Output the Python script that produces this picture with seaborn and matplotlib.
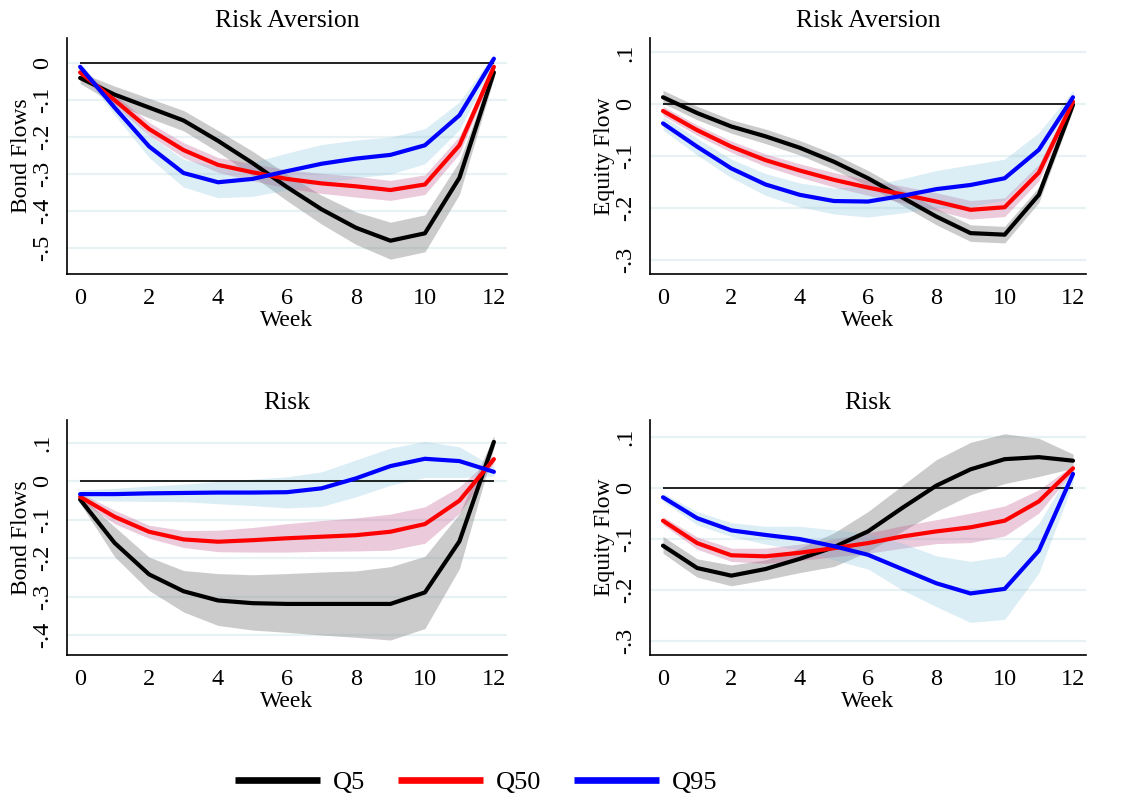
import numpy as np
import pandas as pd
import matplotlib
matplotlib.use("Agg")
import matplotlib.pyplot as plt
import seaborn as sns
from matplotlib.lines import Line2D

weeks = list(range(13))
quantiles = ["Q5", "Q50", "Q95"]

# Panel 1: Risk Aversion -> Bond Flows
ra_bond_q5 = [-0.040, -0.085, -0.120, -0.155, -0.210, -0.270, -0.335, -0.395, -0.445, -0.480, -0.460, -0.310, -0.025]
ra_bond_q5_lo = [-0.055, -0.110, -0.148, -0.183, -0.240, -0.305, -0.372, -0.435, -0.490, -0.530, -0.510, -0.355, -0.040]
ra_bond_q5_hi = [-0.025, -0.062, -0.095, -0.128, -0.182, -0.238, -0.300, -0.357, -0.402, -0.430, -0.410, -0.265, -0.010]
ra_bond_q50 = [-0.025, -0.100, -0.178, -0.235, -0.275, -0.295, -0.313, -0.325, -0.333, -0.343, -0.328, -0.222, -0.010]
ra_bond_q50_lo = [-0.035, -0.115, -0.195, -0.255, -0.295, -0.318, -0.338, -0.352, -0.362, -0.371, -0.355, -0.245, -0.020]
ra_bond_q50_hi = [-0.015, -0.085, -0.160, -0.215, -0.255, -0.272, -0.288, -0.298, -0.306, -0.317, -0.302, -0.198, 0.000]
ra_bond_q95 = [-0.010, -0.120, -0.225, -0.297, -0.322, -0.313, -0.292, -0.272, -0.258, -0.248, -0.222, -0.141, 0.012]
ra_bond_q95_lo = [-0.020, -0.140, -0.255, -0.335, -0.364, -0.360, -0.343, -0.325, -0.310, -0.300, -0.272, -0.180, 0.000]
ra_bond_q95_hi = [0.000, -0.100, -0.195, -0.260, -0.280, -0.268, -0.243, -0.220, -0.208, -0.200, -0.177, -0.105, 0.025]

# Panel 2: Risk Aversion -> Equity Flow
ra_eq_q5 = [0.0135, -0.017, -0.043, -0.062, -0.084, -0.111, -0.143, -0.180, -0.217, -0.249, -0.252, -0.175, -0.001]
ra_eq_q5_lo = [0.002, -0.030, -0.056, -0.076, -0.098, -0.126, -0.158, -0.195, -0.233, -0.265, -0.268, -0.190, -0.010]
ra_eq_q5_hi = [0.027, -0.004, -0.030, -0.048, -0.070, -0.096, -0.128, -0.165, -0.201, -0.233, -0.236, -0.160, 0.008]
ra_eq_q50 = [-0.013, -0.050, -0.082, -0.108, -0.128, -0.146, -0.161, -0.174, -0.188, -0.204, -0.199, -0.132, 0.005]
ra_eq_q50_lo = [-0.022, -0.060, -0.093, -0.120, -0.141, -0.160, -0.176, -0.190, -0.205, -0.222, -0.217, -0.148, -0.003]
ra_eq_q50_hi = [-0.004, -0.040, -0.071, -0.096, -0.115, -0.132, -0.146, -0.158, -0.171, -0.186, -0.181, -0.116, 0.013]
ra_eq_q95 = [-0.037, -0.082, -0.124, -0.155, -0.175, -0.187, -0.188, -0.177, -0.164, -0.156, -0.143, -0.088, 0.0135]
ra_eq_q95_lo = [-0.050, -0.098, -0.142, -0.176, -0.198, -0.212, -0.218, -0.210, -0.200, -0.198, -0.185, -0.122, 0.000]
ra_eq_q95_hi = [-0.024, -0.066, -0.106, -0.134, -0.152, -0.162, -0.158, -0.144, -0.128, -0.117, -0.106, -0.055, 0.027]

# Panel 3: Risk -> Bond Flows
r_bond_q5 = [-0.047, -0.160, -0.242, -0.286, -0.310, -0.317, -0.319, -0.319, -0.319, -0.319, -0.289, -0.156, 0.103]
r_bond_q5_lo = [-0.057, -0.196, -0.284, -0.340, -0.375, -0.387, -0.393, -0.400, -0.406, -0.413, -0.383, -0.227, 0.088]
r_bond_q5_hi = [-0.037, -0.118, -0.197, -0.232, -0.240, -0.243, -0.240, -0.236, -0.233, -0.222, -0.195, -0.084, 0.120]
r_bond_q50 = [-0.040, -0.092, -0.131, -0.151, -0.157, -0.153, -0.148, -0.144, -0.140, -0.131, -0.111, -0.050, 0.058]
r_bond_q50_lo = [-0.050, -0.110, -0.148, -0.172, -0.183, -0.184, -0.184, -0.182, -0.181, -0.179, -0.161, -0.083, 0.048]
r_bond_q50_hi = [-0.030, -0.075, -0.114, -0.128, -0.127, -0.120, -0.110, -0.102, -0.095, -0.085, -0.066, -0.014, 0.068]
r_bond_q95 = [-0.033, -0.033, -0.031, -0.030, -0.029, -0.029, -0.028, -0.018, 0.008, 0.040, 0.059, 0.053, 0.025]
r_bond_q95_lo = [-0.049, -0.051, -0.052, -0.053, -0.058, -0.063, -0.069, -0.065, -0.040, -0.010, 0.010, 0.010, 0.014]
r_bond_q95_hi = [-0.022, -0.018, -0.012, -0.007, 0.000, 0.006, 0.012, 0.025, 0.056, 0.087, 0.104, 0.090, 0.038]

# Panel 4: Risk -> Equity Flow
r_eq_q5 = [-0.113, -0.157, -0.172, -0.159, -0.139, -0.116, -0.085, -0.039, 0.005, 0.037, 0.057, 0.061, 0.054]
r_eq_q5_lo = [-0.128, -0.175, -0.192, -0.180, -0.166, -0.154, -0.125, -0.085, -0.046, -0.013, 0.009, 0.023, 0.039]
r_eq_q5_hi = [-0.095, -0.139, -0.151, -0.141, -0.118, -0.088, -0.046, 0.005, 0.056, 0.090, 0.107, 0.098, 0.067]
r_eq_q50 = [-0.064, -0.108, -0.132, -0.134, -0.127, -0.118, -0.108, -0.095, -0.085, -0.077, -0.064, -0.026, 0.039]
r_eq_q50_lo = [-0.072, -0.120, -0.144, -0.148, -0.142, -0.135, -0.128, -0.118, -0.109, -0.107, -0.094, -0.049, 0.033]
r_eq_q50_hi = [-0.056, -0.096, -0.118, -0.118, -0.110, -0.100, -0.088, -0.074, -0.062, -0.049, -0.035, -0.003, 0.045]
r_eq_q95 = [-0.018, -0.059, -0.083, -0.092, -0.100, -0.114, -0.131, -0.159, -0.187, -0.207, -0.198, -0.123, 0.028]
r_eq_q95_lo = [-0.026, -0.072, -0.095, -0.110, -0.121, -0.141, -0.159, -0.200, -0.233, -0.264, -0.258, -0.167, 0.010]
r_eq_q95_hi = [-0.010, -0.046, -0.068, -0.075, -0.075, -0.082, -0.089, -0.108, -0.133, -0.144, -0.134, -0.069, 0.043]

titles = ["Risk Aversion", "Risk Aversion", "Risk", "Risk"]
ylabels = ["Bond Flows", "Equity Flow", "Bond Flows", "Equity Flow"]
xticks = [0, 2, 4, 6, 8, 10, 12]
yticks_list = [
    [0.0, -0.1, -0.2, -0.3, -0.4, -0.5],
    [0.1, 0.0, -0.1, -0.2, -0.3],
    [0.1, 0.0, -0.1, -0.2, -0.3, -0.4],
    [0.1, 0.0, -0.1, -0.2, -0.3],
]
ylims = [(-0.57, 0.068), (-0.328, 0.128), (-0.452, 0.16), (-0.328, 0.134)]

panels = [
    [(ra_bond_q5, ra_bond_q5_lo, ra_bond_q5_hi), (ra_bond_q50, ra_bond_q50_lo, ra_bond_q50_hi), (ra_bond_q95, ra_bond_q95_lo, ra_bond_q95_hi)],
    [(ra_eq_q5, ra_eq_q5_lo, ra_eq_q5_hi), (ra_eq_q50, ra_eq_q50_lo, ra_eq_q50_hi), (ra_eq_q95, ra_eq_q95_lo, ra_eq_q95_hi)],
    [(r_bond_q5, r_bond_q5_lo, r_bond_q5_hi), (r_bond_q50, r_bond_q50_lo, r_bond_q50_hi), (r_bond_q95, r_bond_q95_lo, r_bond_q95_hi)],
    [(r_eq_q5, r_eq_q5_lo, r_eq_q5_hi), (r_eq_q50, r_eq_q50_lo, r_eq_q50_hi), (r_eq_q95, r_eq_q95_lo, r_eq_q95_hi)],
]

line_colors = {"Q5": "#000000", "Q50": "#ff0000", "Q95": "#0000ff"}
band_colors = {"Q5": ("#8c8c8c", 0.45), "Q50": ("#c0508c", 0.3), "Q95": ("#80c0dc", 0.28)}

sns.set_theme(style="white")
plt.rcParams["font.family"] = ["Liberation Serif", "DejaVu Serif"]
plt.rcParams["text.color"] = "black"
plt.rcParams["axes.labelcolor"] = "black"
plt.rcParams["xtick.color"] = "black"
plt.rcParams["ytick.color"] = "black"

W, H = 1131, 807
fig = plt.figure(figsize=(W / 100, H / 100), dpi=100)

# axes boxes in pixels: left, top, right, bottom
boxes = [(67, 38, 507, 274), (650, 38, 1086, 274), (67, 420, 507, 655), (650, 420, 1086, 655)]

fs_tick = 17.5
fs_lab = 17
fs_title = 18.5
for i, (l, t, r, b) in enumerate(boxes):
    ax = fig.add_axes([l / W, 1 - b / H, (r - l) / W, (b - t) / H])
    rows = []
    for q, (mid, lo, hi) in zip(quantiles, panels[i]):
        for w, v in zip(weeks, mid):
            rows.append({"Week": w, "value": v, "q": q})
    df = pd.DataFrame(rows)
    for q, (mid, lo, hi) in zip(quantiles, panels[i]):
        c, a = band_colors[q]
        ax.fill_between(weeks, lo, hi, color=c, alpha=a, linewidth=0, zorder=1)
    ax.hlines(0, weeks[0], weeks[-1], color="black", linewidth=1.2, zorder=2)
    sns.lineplot(data=df, x="Week", y="value", hue="q", palette=line_colors,
                 linewidth=3.0, ax=ax, legend=False, zorder=3)
    ax.set_xlim(-0.38, 12.38)
    ax.set_ylim(*ylims[i])
    ax.set_xticks(xticks)
    ax.set_xticklabels([str(x) for x in xticks], fontsize=fs_tick)
    yt = yticks_list[i]
    ax.set_yticks(yt)
    ax.set_yticklabels([("0" if abs(v) < 1e-9 else f"{v:.1f}".replace("0.", ".")) for v in yt],
                       fontsize=fs_tick, rotation=90, va="center")
    for v in yt:
        ax.axhline(v, color="#e8f1f4", linewidth=1.6, zorder=0)
    ax.grid(False)
    ax.tick_params(axis="both", direction="out", length=5, width=1, color="black")
    ax.tick_params(axis="x", pad=5)
    ax.tick_params(axis="y", pad=5)
    for s in ["top", "right"]:
        ax.spines[s].set_visible(False)
    for s in ["left", "bottom"]:
        ax.spines[s].set_color("black")
        ax.spines[s].set_linewidth(1.2)
    ax.set_title(titles[i], fontsize=fs_title, pad=8)
    ax.set_xlabel("Week", fontsize=fs_lab, labelpad=0.5)
    ax.set_ylabel(ylabels[i], fontsize=fs_lab, labelpad=0)

handles = [Line2D([], [], color=line_colors[q], linewidth=4.8, solid_capstyle="butt") for q in quantiles]
fig.legend(handles, quantiles, loc="center", bbox_to_anchor=(476 / W, 1 - 782 / H),
           ncol=3, frameon=False, fontsize=19, handlelength=3.22, handletextpad=0.49,
           columnspacing=1.25)

fig.savefig("out.png", dpi=100)
